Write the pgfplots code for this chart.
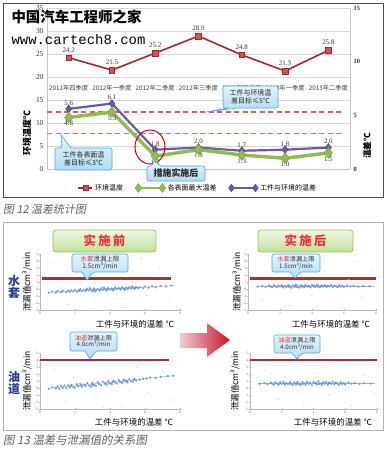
\documentclass[border=0pt]{standalone}
\usepackage{fontspec}
\usepackage{pgfplots}
\pgfplotsset{compat=1.18}
\setmainfont{Noto Sans CJK SC}
\newfontfamily\numfont{Liberation Serif}
\newfontfamily\capfont[FakeSlant=0.18]{Noto Sans CJK SC}
\newfontfamily\urlfont{Liberation Mono}
\newcommand{\fs}[1]{\fontsize{#1}{#1}\selectfont}

\definecolor{envred}{RGB}{160,40,50}
\definecolor{envfill}{RGB}{205,85,90}
\definecolor{grn}{RGB}{145,185,85}
\definecolor{grnd}{RGB}{120,160,65}
\definecolor{pur}{RGB}{110,90,160}
\definecolor{purd}{RGB}{85,65,135}
\definecolor{dred}{RGB}{215,95,95}
\definecolor{dblue}{RGB}{80,155,200}
\definecolor{cfillA}{RGB}{228,244,252}
\definecolor{cfillB}{RGB}{178,220,242}
\definecolor{cdraw}{RGB}{85,165,210}
\definecolor{gA}{RGB}{240,248,228}
\definecolor{gB}{RGB}{192,224,152}
\definecolor{gdraw}{RGB}{150,195,100}
\definecolor{tred}{RGB}{225,55,55}
\definecolor{tblue}{RGB}{40,60,140}
\definecolor{scat}{RGB}{105,150,215}
\definecolor{scatline}{RGB}{150,180,225}
\definecolor{limred}{RGB}{170,45,55}
\definecolor{arrL}{RGB}{240,205,210}
\definecolor{arrR}{RGB}{200,20,40}

\pgfplotsset{
  legmid/.style={legend image code/.code={\draw[mark repeat=2,mark phase=2,##1] plot coordinates {(0bp,0bp)(7bp,0bp)(14bp,0bp)};}},
  legends/.style={legend image code/.code={\draw[##1] plot coordinates {(0bp,0bp)(24bp,0bp)};}},
  scatax/.style={scale only axis, height=56bp, xmin=0, xmax=8, ymin=-3, ymax=5,
    axis x line=bottom, axis y line=left, axis line style={-, gray!55, line width=0.5bp},
    xtick={0,2,...,8}, ytick={-3,...,5}, major tick length=1.5bp,
    tick style={gray!60, line width=0.5bp},
    /pgf/number format/assume math mode=true,
    tick label style={font=\numfont\fs{3.5}, text=black!60, inner sep=1bp}, clip=false},
  band/.style={only marks, color=scat, mark=*, mark size=0.9bp, mark options={draw=none, fill=scat, fill opacity=0.6}},
  noise/.style={only marks, color=gray!40, mark=*, mark size=0.35bp, mark options={draw=none, fill=gray!40}},
}

\newcommand{\calldown}[8]{%
  \path[draw=cdraw, line width=0.6bp, top color=cfillA, bottom color=cfillB, rounded corners=2bp]
  (#1bp,-#2bp) -- (#3bp,-#2bp) -- (#3bp,-#4bp) -- (#6bp,-#4bp) [sharp corners] -- (#7bp,-#8bp) -- (#5bp,-#4bp) [rounded corners=2bp] -- (#1bp,-#4bp) -- cycle;}
\newcommand{\callup}[8]{%
  \path[draw=cdraw, line width=0.6bp, top color=cfillA, bottom color=cfillB, rounded corners=2bp]
  (#1bp,-#4bp) -- (#1bp,-#2bp) -- (#5bp,-#2bp) [sharp corners] -- (#7bp,-#8bp) -- (#6bp,-#2bp) [rounded corners=2bp] -- (#3bp,-#2bp) -- (#3bp,-#4bp) -- cycle;}

\begin{document}
\begin{tikzpicture}
\path[use as bounding box] (0,0) rectangle (387bp,-450bp);
\fill[white] (0,0) rectangle (387bp,-450bp);

% ---------------- Figure 12 ----------------
\draw[gray!60!black, line width=0.8bp] (3bp,-3bp) rectangle (383bp,-197bp);

\begin{axis}[
  at={(47bp,-169bp)}, anchor=south west,
  scale only axis, width=303bp, height=161bp,
  xmin=-0.5, xmax=6.5, ymin=0, ymax=35,
  axis lines*=left, axis line style={gray!45, line width=0.6bp},
  xtick=\empty, ytick={0,5,...,35},
  ymajorgrids, grid style={gray!30, line width=0.5bp},
  major tick length=0pt,
  /pgf/number format/assume math mode=true,
  yticklabel style={font=\numfont\fs{7.5}, text=black!80},
  clip=false,
]
\addplot[envred, line width=1.6bp, mark=square*, mark size=2.8bp,
  mark options={fill=envfill, draw=envred, line width=0.5bp},
  nodes near coords, point meta=explicit symbolic, nodes near coords align={above},
  every node near coord/.append style={font=\numfont\fs{7}, text=black!80, yshift=2bp}]
  coordinates {(0,24.2)[24.2] (1,21.5)[21.5] (2,25.2)[25.2] (3,28.9)[28.9] (4,24.8)[24.8] (5,21.3)[21.3] (6,25.8)[25.8]};
\node[font=\fs{6.3}, text=black!75] at (axis cs:0,17.6) {2011年四季度};
\node[font=\fs{6.3}, text=black!75] at (axis cs:1,17.6) {2012年一季度};
\node[font=\fs{6.3}, text=black!75] at (axis cs:2,17.6) {2012年二季度};
\node[font=\fs{6.3}, text=black!75] at (axis cs:3,17.6) {2012年三季度};
\node[font=\fs{6.3}, text=black!75] at (axis cs:4,17.6) {2012年四季度};
\node[font=\fs{6.3}, text=black!75] at (axis cs:5,17.6) {2013年一季度};
\node[font=\fs{6.3}, text=black!75] at (axis cs:6,17.6) {2013年二季度};
\end{axis}

\begin{axis}[
  at={(47bp,-169bp)}, anchor=south west,
  scale only axis, width=303bp, height=161bp,
  xmin=-0.5, xmax=6.5, ymin=0, ymax=15,
  axis x line=none, axis y line*=right, axis line style={gray!45, line width=0.6bp},
  ytick={0,5,10,15}, major tick length=0pt,
  /pgf/number format/assume math mode=true,
  yticklabel style={font=\numfont\bfseries\fs{6.5}, text=black!80},
  clip=false,
  legend style={at={(0.498,-0.118)}, anchor=center, draw=none, fill=none, font=\fs{7},
    legend columns=3, /tikz/every even column/.append style={column sep=10bp}},
]
\addlegendimage{legmid, envred, line width=1.4bp, mark=square*, mark size=2.4bp, mark options={fill=envfill, draw=envred, line width=0.4bp}}
\addlegendentry{环境温度}
\addlegendimage{legends, grn, line width=2.8bp, mark=diamond*, mark size=4.5bp, mark options={fill=grn, draw=grnd, line width=0.4bp}}
\addlegendentry{各表面最大温差}
\addlegendimage{legends, pur, line width=2bp, mark=diamond*, mark size=3.8bp, mark options={fill=pur, draw=purd, line width=0.4bp}}
\addlegendentry{工件与环境的温差}

\addplot[dred, line width=1.5bp, dash pattern=on 5bp off 3.5bp, forget plot] coordinates {(-0.5,5.3) (6.35,5.3)};
\addplot[dblue, line width=1.5bp, dash pattern=on 5bp off 3.5bp, forget plot] coordinates {(-0.5,3.3) (6.35,3.3)};

\addplot[pur, line width=2.2bp, mark=diamond*, mark size=4bp,
  mark options={fill=pur, draw=purd, line width=0.4bp},
  nodes near coords, point meta=explicit symbolic, nodes near coords align={above},
  every node near coord/.append style={font=\numfont\fs{7}, text=black!80}, forget plot]
  coordinates {(0,5.6)[5.6] (1,6.1)[6.1] (2,1.8)[1.8] (3,2.0)[2.0] (4,1.7)[1.7] (5,1.8)[1.8] (6,2.0)[2.0]};
\addplot[grn, line width=3.4bp, mark=diamond*, mark size=5.5bp,
  mark options={fill=grn, draw=grnd, line width=0.4bp},
  nodes near coords, point meta=explicit symbolic, nodes near coords align={below},
  every node near coord/.append style={font=\numfont\fs{7}, text=black!80}, forget plot]
  coordinates {(0,4.8)[4.8] (1,5.3)[5.3] (2,1.2)[1.2] (3,1.8)[1.8] (4,1.3)[1.3] (5,1.0)[1.0] (6,1.5)[1.5]};
\end{axis}

\node[rotate=90, font=\bfseries\fs{9}] at (27bp,-133bp) {环境温度℃};
\node[rotate=90, font=\bfseries\fs{8.5}] at (367bp,-146bp) {温差℃};

\draw[red!80!black, line width=1bp] (150bp,-147bp) ellipse (15bp and 17bp);

\calldown{223}{86}{278}{108}{228}{237}{206}{112}
\node[font=\fs{7}, align=center, text=black!85, inner sep=0pt] at (250.5bp,-97bp) {工件与环境温\\[1bp]差目标≤5℃};
\callup{55}{148}{112}{170}{62}{71}{61}{135}
\node[font=\fs{7}, align=center, text=black!85, inner sep=0pt] at (83.5bp,-159bp) {工件各表面温\\[1bp]差目标≤3℃};
\callup{147}{166}{205}{181}{152}{161}{154}{161}
\node[font=\bfseries\fs{9}, text=black!85, inner sep=0pt] at (176bp,-173.5bp) {措施实施后};

\node[anchor=west, font=\bfseries\fs{14.5}] at (8bp,-17bp) {中国汽车工程师之家};
\node[anchor=west, font=\urlfont\fs{14}] at (8bp,-40bp) {www.cartech8.com};

\node[anchor=west, text=gray!75!black, font=\capfont\fs{11}, inner sep=0pt] at (3bp,-209bp) {图 12 温差统计图};

% ---------------- Figure 13 ----------------
\draw[gray!60, line width=0.8bp] (3bp,-222bp) rectangle (383bp,-430bp);

\path[draw=gdraw, line width=0.8bp, top color=gA, bottom color=gB, rounded corners=3bp] (53bp,-230bp) rectangle (156bp,-252bp);
\node[font=\bfseries\fs{12.5}, text=tred] at (104.5bp,-241bp) {实\,施\,前};
\path[draw=gdraw, line width=0.8bp, top color=gA, bottom color=gB, rounded corners=3bp] (258bp,-230bp) rectangle (353bp,-252bp);
\node[font=\bfseries\fs{12.5}, text=tred] at (305.5bp,-241bp) {实\,施\,后};

\node[font=\bfseries\fs{12}, text=tblue, align=center] at (14bp,-287bp) {水\\套};
\node[font=\bfseries\fs{12}, text=tblue, align=center] at (14bp,-383bp) {油\\道};

\shade[left color=arrL, right color=arrR] (180bp,-333bp) -- (207bp,-333bp) -- (207bp,-323bp) -- (230bp,-340bp) -- (207bp,-357bp) -- (207bp,-348bp) -- (180bp,-348bp) -- cycle;

% top-left
\begin{axis}[scatax, at={(40bp,-310bp)}, anchor=south west, width=140bp]
\addplot[noise] coordinates {(0.8,3.6)(1.6,-2.2)(2.4,2.3)(3.1,-1.4)(3.9,4.2)(4.6,-2.6)(5.3,1.1)(6.1,-0.9)(6.8,3.1)(7.4,-1.8)(1.2,1.2)(5.8,4.4)(2.9,-2.8)(4.2,2.9)};
\addplot[band] coordinates {(0.5,-0.50)(0.7,-0.38)(0.9,-0.52)(1.0,-0.30)(1.2,-0.45)(1.3,-0.28)(1.5,-0.42)(1.6,-0.22)(1.7,-0.38)(1.8,-0.18)(1.9,-0.35)(2.0,-0.12)(2.1,-0.40)(2.2,-0.20)(2.3,-0.05)(2.4,-0.32)(2.5,-0.15)(2.6,-0.28)(2.7,0.02)(2.8,-0.22)(2.9,-0.08)(3.0,-0.30)(3.1,0.05)(3.2,-0.18)(3.3,-0.02)(3.4,-0.25)(3.5,0.10)(3.6,-0.12)(3.7,0.02)(3.8,-0.20)(3.9,0.15)(4.0,-0.05)(4.1,0.08)(4.2,-0.12)(4.3,0.20)(4.4,0.00)(4.5,0.12)(4.6,-0.06)(4.7,0.25)(4.8,0.05)(4.9,0.18)(5.0,0.00)(5.1,0.28)(5.2,0.08)(5.3,0.20)(5.4,0.05)(5.5,0.32)(5.6,0.12)(5.7,0.25)(5.9,0.15)(6.0,0.35)(6.2,0.20)(6.4,0.38)(6.6,0.25)(6.9,0.42)(7.2,0.35)(7.5,0.50)
(2.25,-0.25)(2.65,-0.10)(3.05,-0.15)(3.45,-0.05)(3.85,0.00)(4.25,0.05)(4.65,0.10)(5.05,0.15)(5.45,0.18)(3.15,-0.35)(4.15,-0.20)(4.85,-0.10)(5.25,0.35)(3.65,0.20)(2.85,0.10)};
\addplot[scatline, line width=0.5bp] coordinates {(0.46,-0.48)(7.7,0.5)};
\addplot[limred, line width=2.4bp] coordinates {(0.1,1.5)(7.5,1.5)};
\end{axis}

% top-right
\begin{axis}[scatax, at={(248bp,-310bp)}, anchor=south west, width=128bp]
\addplot[noise] coordinates {(0.9,-1.5)(1.7,3.2)(2.6,-2.4)(3.3,2.1)(4.0,-0.9)(4.8,3.9)(5.5,-2.0)(6.3,1.4)(7.1,-1.2)(7.7,2.7)(2.1,4.3)(3.8,1.2)(5.9,-2.7)(6.8,4.0)};
\addplot[band] coordinates {(0.6,0.35)(0.9,0.45)(1.1,0.30)(1.3,0.50)(1.4,0.38)(1.5,0.25)(1.6,0.55)(1.7,0.40)(1.8,0.28)(1.9,0.48)(2.0,0.35)(2.1,0.58)(2.2,0.22)(2.3,0.45)(2.4,0.32)(2.5,0.55)(2.6,0.40)(2.7,0.18)(2.8,0.50)(2.9,0.30)(3.0,0.62)(3.1,0.38)(3.2,0.20)(3.3,0.52)(3.4,0.42)(3.5,0.25)(3.6,0.58)(3.7,0.35)(3.8,0.48)(3.9,0.22)(4.0,0.55)(4.1,0.40)(4.2,0.30)(4.3,0.60)(4.4,0.45)(4.5,0.25)(4.6,0.50)(4.7,0.35)(4.8,0.55)(4.9,0.28)(5.0,0.45)(5.1,0.38)(5.2,0.58)(5.3,0.30)(5.4,0.48)(5.5,0.40)(5.6,0.25)(5.7,0.52)(5.8,0.36)(5.9,0.45)(6.0,0.30)(6.2,0.50)(6.4,0.38)(6.6,0.45)(6.9,0.35)(7.2,0.42)(7.6,0.40)
(2.15,0.42)(2.55,0.32)(2.95,0.45)(3.35,0.35)(3.75,0.42)(4.15,0.48)(4.55,0.38)(4.95,0.42)(5.35,0.45)(3.55,0.40)(4.35,0.35)(3.05,0.28)(4.75,0.46)};
\addplot[scatline, line width=0.5bp] coordinates {(0.6,0.4)(7.9,0.4)};
\addplot[limred, line width=2.4bp] coordinates {(0.1,1.5)(8.0,1.5)};
\end{axis}

% bottom-left
\begin{axis}[scatax, at={(40bp,-409bp)}, anchor=south west, width=140bp]
\addplot[noise] coordinates {(0.8,2.6)(1.5,-1.9)(2.4,3.4)(3.2,-1.1)(4.0,2.3)(4.7,-2.5)(5.5,3.0)(6.2,-0.6)(7.0,2.4)(7.6,-1.7)(1.9,1.5)(3.6,-2.7)(5.1,-0.3)(6.6,3.5)};
\addplot[band] coordinates {(0.5,-0.10)(0.7,0.10)(0.9,-0.05)(1.0,0.25)(1.1,-0.10)(1.2,0.30)(1.3,0.05)(1.4,0.35)(1.5,0.00)(1.6,0.40)(1.7,0.10)(1.8,0.45)(1.9,0.15)(2.0,0.05)(2.1,0.55)(2.2,0.25)(2.3,0.60)(2.4,0.20)(2.5,0.50)(2.6,0.30)(2.7,0.70)(2.8,0.35)(2.9,0.20)(3.0,0.75)(3.1,0.45)(3.2,0.30)(3.3,0.85)(3.4,0.55)(3.5,0.40)(3.6,0.90)(3.7,0.60)(3.8,0.45)(3.9,1.00)(4.0,0.70)(4.1,0.55)(4.2,1.05)(4.3,0.80)(4.4,0.65)(4.5,1.15)(4.6,0.85)(4.7,0.70)(4.8,1.20)(4.9,0.95)(5.0,0.80)(5.1,1.25)(5.2,1.00)(5.3,0.90)(5.4,1.30)(5.5,1.05)(5.7,1.20)(5.9,1.30)(6.1,1.35)(6.3,1.50)(6.6,1.45)(6.9,1.60)(7.3,1.70)(7.6,1.75)
(1.75,0.28)(2.15,0.35)(2.55,0.42)(2.95,0.52)(3.35,0.62)(3.75,0.72)(4.15,0.85)(4.55,0.92)(4.95,1.05)(5.35,1.12)(3.05,0.40)(3.95,0.62)(4.75,0.98)(2.35,0.40)};
\addplot[scatline, line width=0.5bp] coordinates {(0.46,-0.05)(7.7,1.77)};
\addplot[limred, line width=2.4bp] coordinates {(0.0,4.0)(7.4,4.0)};
\end{axis}

% bottom-right
\begin{axis}[scatax, at={(250bp,-409bp)}, anchor=south west, width=127bp]
\addplot[noise] coordinates {(0.9,2.5)(1.8,-1.6)(2.7,3.3)(3.4,-2.2)(4.2,2.1)(5.0,-1.0)(5.7,3.4)(6.4,-2.5)(7.2,1.8)(7.8,-0.8)(2.2,1.5)(4.6,3.0)(6.0,-0.3)(3.0,-0.6)};
\addplot[band] coordinates {(0.6,0.60)(0.9,0.70)(1.1,0.55)(1.3,0.75)(1.4,0.62)(1.5,0.48)(1.6,0.80)(1.7,0.65)(1.8,0.50)(1.9,0.78)(2.0,0.58)(2.1,0.88)(2.2,0.45)(2.3,0.72)(2.4,0.55)(2.5,0.85)(2.6,0.65)(2.7,0.40)(2.8,0.80)(2.9,0.52)(3.0,0.92)(3.1,0.62)(3.2,0.42)(3.3,0.85)(3.4,0.68)(3.5,0.45)(3.6,0.90)(3.7,0.58)(3.8,0.78)(3.9,0.40)(4.0,0.88)(4.1,0.65)(4.2,0.50)(4.3,0.95)(4.4,0.70)(4.5,0.42)(4.6,0.82)(4.7,0.60)(4.8,0.88)(4.9,0.48)(5.0,0.75)(5.1,0.62)(5.2,0.90)(5.3,0.52)(5.4,0.78)(5.5,0.65)(5.6,0.45)(5.7,0.82)(5.8,0.60)(5.9,0.72)(6.0,0.52)(6.2,0.80)(6.4,0.62)(6.6,0.70)(6.9,0.58)(7.2,0.68)(7.6,0.62)
(2.15,0.66)(2.55,0.58)(2.95,0.72)(3.35,0.60)(3.75,0.68)(4.15,0.75)(4.55,0.62)(4.95,0.68)(5.35,0.70)(3.55,0.66)(4.35,0.58)(3.05,0.55)(4.75,0.72)(5.75,0.66)};
\addplot[scatline, line width=0.5bp] coordinates {(0.5,0.65)(7.9,0.65)};
\addplot[limred, line width=2.4bp] coordinates {(0.0,4.0)(8.0,4.0)};
\end{axis}

% callouts in figure 13
\calldown{72}{254}{128}{272}{82}{93}{87}{280}
\node[font=\fs{6.5}, align=center, text=black!80, inner sep=0pt] at (100bp,-263bp) {\textcolor{tred}{水套}泄漏上限\\[0.5bp]1.5cm³/min};
\calldown{272}{254}{320}{272}{290}{300}{295}{278}
\node[font=\fs{6.2}, align=center, text=black!80, inner sep=0pt] at (296bp,-263bp) {\textcolor{tred}{水套}泄漏上限\\[0.5bp]1.5cm³/min};
\calldown{70}{332}{117}{351}{85}{96}{90}{359}
\node[font=\fs{6.2}, align=center, text=black!80, inner sep=0pt] at (93.5bp,-341.5bp) {\textcolor{tred}{油道}泄漏上限\\[0.5bp]4.0cm³/min};
\calldown{274}{335}{320}{353}{292}{302}{297}{359}
\node[font=\fs{6.2}, align=center, text=black!80, inner sep=0pt] at (297bp,-344bp) {\textcolor{tred}{油道}泄漏上限\\[0.5bp]4.0cm³/min};

% axis titles figure 13
\node[rotate=90, font=\fs{8.5}] at (27bp,-282bp) {泄漏值cm³/min};
\node[rotate=90, font=\fs{8.5}] at (237bp,-282bp) {泄漏值cm³/min};
\node[rotate=90, font=\fs{8.5}] at (27bp,-381bp) {泄漏值cm³/min};
\node[rotate=90, font=\fs{8.5}] at (235bp,-381bp) {泄漏值cm³/min};
\node[font=\fs{8.5}] at (135bp,-324bp) {工件与环境的温差 ℃};
\node[font=\fs{8.5}] at (331bp,-324bp) {工件与环境的温差 ℃};
\node[font=\fs{8.5}] at (134bp,-422bp) {工件与环境的温差 ℃};
\node[font=\fs{8.5}] at (333bp,-422bp) {工件与环境的温差 ℃};

\node[anchor=west, text=gray!75!black, font=\capfont\fs{11.5}, inner sep=0pt] at (3bp,-440bp) {图 13 温差与泄漏值的关系图};
\end{tikzpicture}
\end{document}
